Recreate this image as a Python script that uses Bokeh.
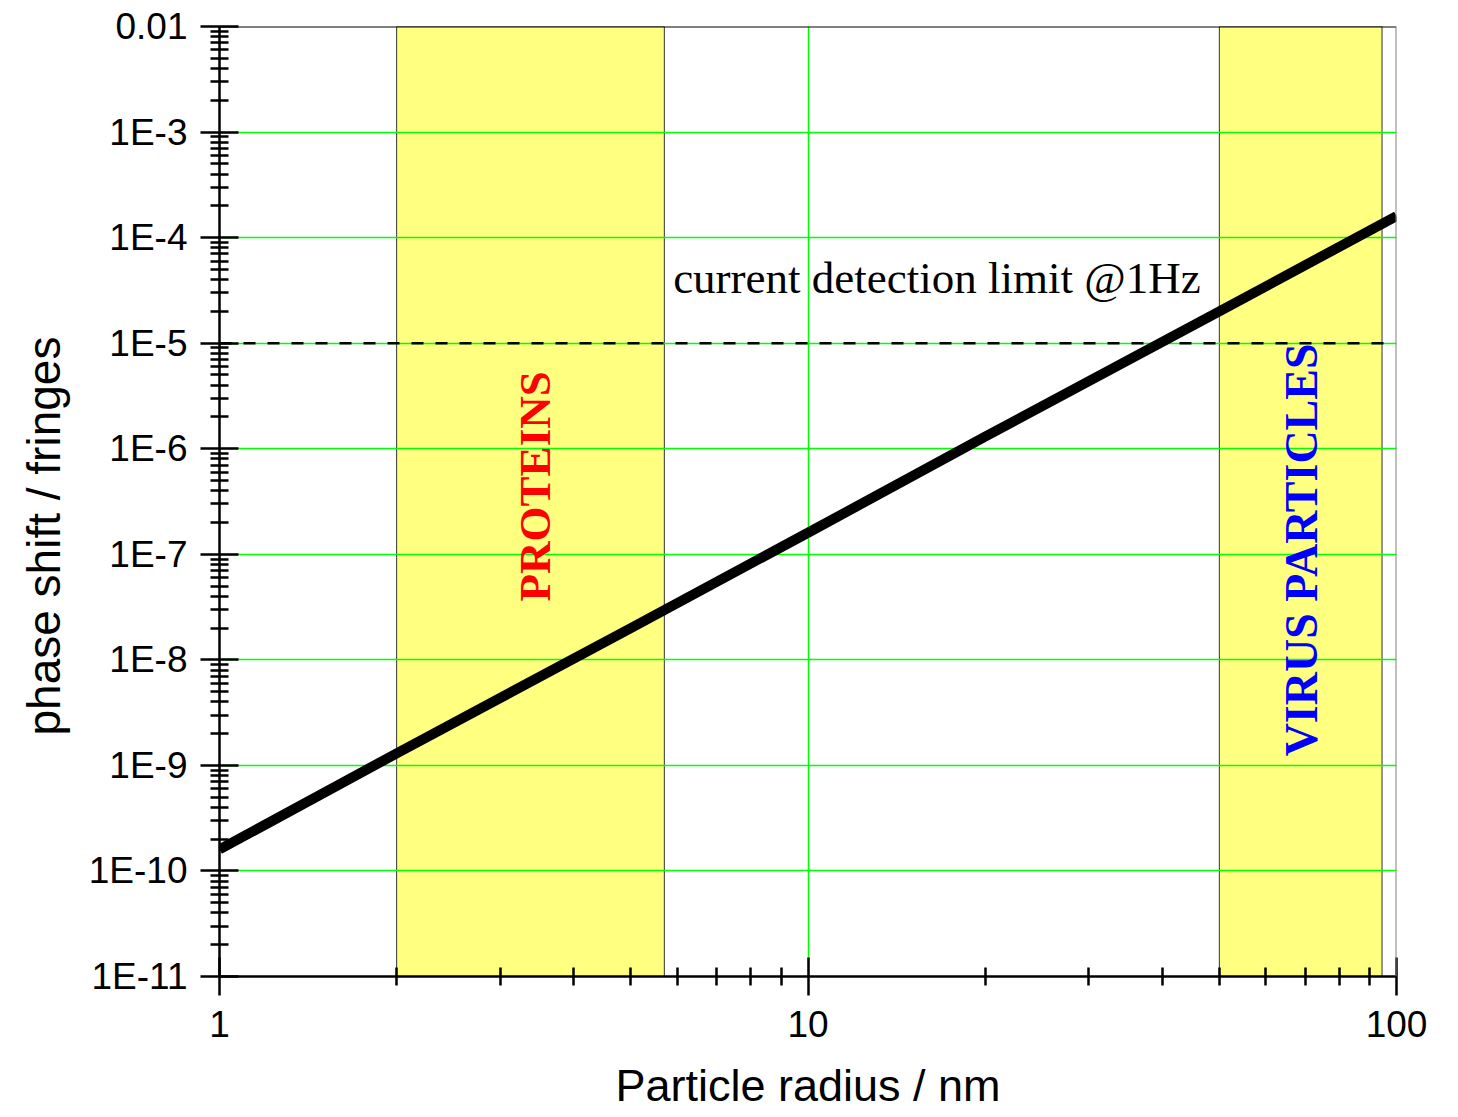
import math
from bokeh.plotting import figure
from bokeh.models import FixedTicker, CustomJSTickFormatter, Span, Label, Title, ColumnDataSource
from bokeh.embed import file_html
from bokeh.resources import INLINE

# ---- data ----
radius_nm = [1, 2, 5, 10, 20, 50, 100]
phase_shift = [1.6e-10, 1.3e-9, 2.0e-8, 1.6e-7, 1.3e-6, 2.0e-5, 1.6e-4]

detection_limit = 1e-5
detection_x = [1, 98]

band_left = [2.0, 50.0]
band_right = [5.7, 94.5]

x_decades = [1, 10, 100]
y_exponents = list(range(-11, -1))  # 1E-11 ... 0.01

x_min, x_max = 1, 100
y_min, y_max = 1e-11, 1e-2

# text annotation anchors (data coords)
limit_text_pos = (5.9, 4.1e-5)
proteins_pos = (3.44, 4.4e-7)
virus_pos = (69.0, 1.1e-7)

# ---- figure ----
p = figure(x_axis_type="log", y_axis_type="log",
           x_range=(x_min, x_max), y_range=(y_min, y_max),
           frame_width=1177, frame_height=950,
           min_border_left=219, min_border_right=46,
           min_border_top=26, min_border_bottom=133,
           output_backend="svg", toolbar_location=None)
p.background_fill_color = "white"
p.border_fill_color = "white"
p.outline_line_color = None

# bands
bands = ColumnDataSource(dict(left=band_left, right=band_right,
                              bottom=[y_min] * len(band_left), top=[y_max] * len(band_left)))
p.quad(left="left", right="right", bottom="bottom", top="top", source=bands,
       fill_color="#FFFF80", line_color="#333333", line_width=1, level="image")

# ticks
x_minor = [m * d for d in x_decades[:-1] for m in range(2, 10)]
y_major = [10.0 ** e for e in y_exponents]
y_minor = [m * 10.0 ** e for e in y_exponents[:-1] for m in range(2, 10)]

p.xaxis.ticker = FixedTicker(ticks=x_decades, minor_ticks=x_minor)
p.yaxis.ticker = FixedTicker(ticks=y_major, minor_ticks=y_minor)
p.xaxis.formatter = CustomJSTickFormatter(code="return String(Math.round(tick));")
p.yaxis.formatter = CustomJSTickFormatter(code="""
const e = Math.round(Math.log10(tick));
if (e == -2) { return "0.01"; }
return "1E" + e;
""")

for ax in (p.xaxis[0], p.yaxis[0]):
    ax.axis_line_color = "black"
    ax.axis_line_width = 2.5
    ax.major_tick_line_color = "black"
    ax.major_tick_line_width = 2.5
    ax.minor_tick_line_color = "black"
    ax.minor_tick_line_width = 2.5
    ax.major_tick_in = 19
    ax.major_tick_out = 19
    ax.minor_tick_in = 9
    ax.minor_tick_out = 9
    ax.major_label_text_font = "Liberation Sans"
    ax.major_label_text_font_size = "37px"
    ax.major_label_text_color = "black"
    ax.axis_label_text_font = "Liberation Sans"
    ax.axis_label_text_font_size = "45px"
    ax.axis_label_text_font_style = "normal"
    ax.axis_label_text_color = "black"

p.xaxis.major_label_standoff = 15
p.yaxis.major_label_standoff = 13
p.xaxis.axis_label = "Particle radius / nm"
p.xaxis.axis_label_standoff = 20

# y axis title as a side title so it can be shifted along the axis
ytitle = Title(text="phase shift / fringes", align="left", offset=241, standoff=31,
               text_font="Liberation Sans", text_font_size="46px",
               text_font_style="normal", text_color="black")
p.add_layout(ytitle, "left")

p.xgrid.grid_line_color = "#00FF00"
p.ygrid.grid_line_color = "#00FF00"
p.xgrid.grid_line_width = 1.5
p.ygrid.grid_line_width = 1.5

# frame borders
p.add_layout(Span(location=y_max, dimension="width", line_color="black", line_width=2))
p.add_layout(Span(location=x_max, dimension="height", line_color="#808080", line_width=2))

# detection limit
p.line(detection_x, [detection_limit] * len(detection_x), line_color="black",
       line_width=2.5, line_dash="12 12")

# main curve
p.line(radius_nm, phase_shift, line_color="black", line_width=10)

# labels
p.add_layout(Label(x=limit_text_pos[0], y=limit_text_pos[1], text="current detection limit @1Hz",
                   text_font="Liberation Serif", text_font_size="45px", text_color="black",
                   text_align="left", text_baseline="alphabetic"))
p.add_layout(Label(x=proteins_pos[0], y=proteins_pos[1], text="PROTEINS", angle=math.pi / 2,
                   text_font="Liberation Serif", text_font_size="45px", text_font_style="bold",
                   text_color="#FF0000", text_align="center", text_baseline="middle"))
p.add_layout(Label(x=virus_pos[0], y=virus_pos[1], text="VIRUS PARTICLES", angle=math.pi / 2,
                   text_font="Liberation Serif", text_font_size="46px", text_font_style="bold",
                   text_color="#0000FF", text_align="center", text_baseline="middle"))

open("out.html", "w").write(file_html(p, INLINE))
